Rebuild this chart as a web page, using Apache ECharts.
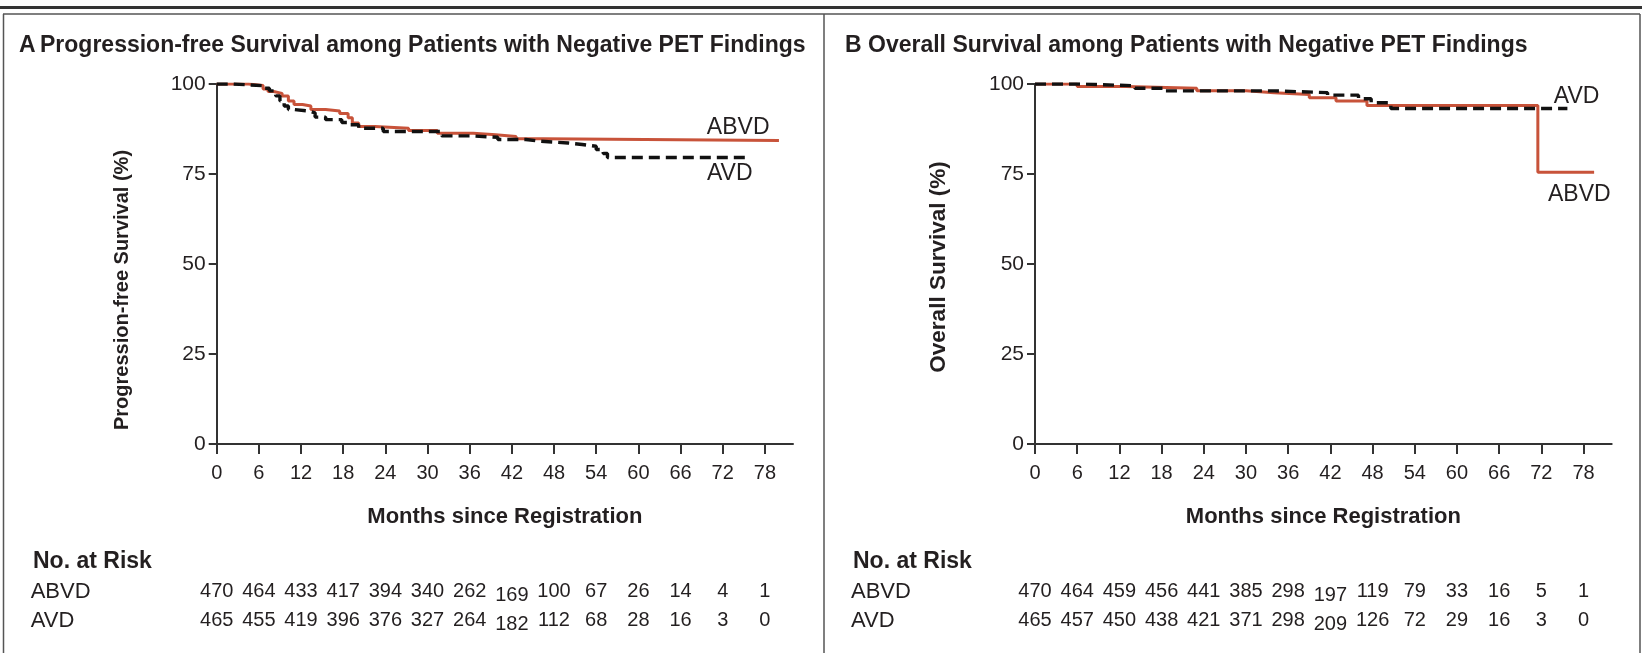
<!DOCTYPE html>
<html><head><meta charset="utf-8">
<script src="https://cdn.jsdelivr.net/npm/echarts@6/dist/echarts.min.js"></script>
<style>html,body{margin:0;padding:0;background:#fff}#c{width:1642px;height:653px}</style>
</head><body><div id="c"></div>
<script>
// ---- data ----
const monthTicks = [0,6,12,18,24,30,36,42,48,54,60,66,72,78];
const yTicks = [0,25,50,75,100];
const groups = ['ABVD','AVD'];

const pfsABVD = [[0,100],[4.5,99.6],[6.6,98.6],[7.3,97.9],[8.1,97.4],[9.3,96.7],[10.2,95.3],[11,94.3],[12.2,93.9],[13.4,92.9],[15.5,92.5],[17.5,91.8],[18.7,90.6],[19.3,89.2],[20.2,88.2],[22.5,87.7],[27.3,87.1],[31.4,86.3],[36.5,85.9],[39.7,85.4],[42.6,84.8],[46.5,84.3],[80,84.3]];
const pfsAVD = [[0,100],[2.4,99.5],[6.8,98.8],[7.5,98.1],[8.4,96.7],[9,95.3],[9.6,93.9],[10.2,92.9],[11,92.5],[13.1,92],[14,90.8],[15.5,90.1],[17.8,89.3],[19,88.7],[20.2,87.7],[23.7,86.8],[32,85.6],[36,85.2],[40,84.6],[44,84.1],[46,83.6],[50,83.2],[52,82.7],[54,81.8],[55,80.7],[55.6,79.6],[76,79.6]];
const osABVD = [[0,100],[6,99.3],[12.9,98.8],[23,98.1],[30,97.6],[34,97.1],[39,96.2],[42.8,95.3],[47.2,94],[71.5,75.5],[79.5,75.5]];
const osAVD = [[0,100],[6.7,99.5],[14.2,98.8],[18.5,98.1],[34,97.6],[41.6,96.9],[46,95.9],[47.8,94.8],[50.6,93.2],[75.7,93.2]];

const pfsRiskABVD = [470,464,433,417,394,340,262,169,100,67,26,14,4,1];
const pfsRiskAVD  = [465,455,419,396,376,327,264,182,112,68,28,16,3,0];
const osRiskABVD  = [470,464,459,456,441,385,298,197,119,79,33,16,5,1];
const osRiskAVD   = [465,457,450,438,421,371,298,209,126,72,29,16,3,0];

const titleA = 'Progression-free Survival among Patients with Negative PET Findings';
const titleB = 'Overall Survival among Patients with Negative PET Findings';
const yNameA = 'Progression-free Survival (%)';
const yNameB = 'Overall Survival (%)';
const xName = 'Months since Registration';

// ---- style ----
const FONT = "'Liberation Sans',Arial,sans-serif";
const INK = '#231f20';
const RED = '#c8533a';
const AXC = '#333333';
const XMAX = 82;

const chart = echarts.init(document.getElementById('c'), null, {renderer:'canvas'});

function curveAxes(gi){
  return {
    x: {type:'value', gridIndex:gi, min:0, max:XMAX,
      axisLine:{lineStyle:{color:AXC,width:2}},
      axisTick:{show:true, length:10, customValues:monthTicks, lineStyle:{color:AXC,width:2}},
      axisLabel:{customValues:monthTicks, color:INK, fontFamily:FONT, fontSize:20, margin:19},
      splitLine:{show:false},
      name:xName, nameLocation:'middle', nameGap:62,
      nameTextStyle:{color:INK, fontFamily:FONT, fontSize:22, fontWeight:'bold'}},
    y: {type:'value', gridIndex:gi, min:0, max:100, interval:25,
      axisLine:{show:true, lineStyle:{color:AXC,width:2}},
      axisTick:{show:true, length:8, lineStyle:{color:AXC,width:2}},
      axisLabel:{color:INK, fontFamily:FONT, fontSize:21, margin:11},
      splitLine:{show:false},
      nameLocation:'middle', nameRotate:90, nameGap:84,
      nameTextStyle:{color:INK, fontFamily:FONT, fontSize:20, fontWeight:'bold'}}
  };
}
function tableAxes(gi, margin){
  return {
    x: {type:'value', gridIndex:gi, min:0, max:XMAX, show:false},
    y: {type:'category', gridIndex:gi, data:groups, inverse:true,
      axisLine:{show:false}, axisTick:{show:false}, splitLine:{show:false},
      axisLabel:{align:'left', margin:margin, color:INK, fontFamily:FONT, fontSize:22}}
  };
}
const a0 = curveAxes(0), a1 = curveAxes(1), t2 = tableAxes(2,186), t3 = tableAxes(3,184);
a0.y.name = yNameA; a1.y.name = yNameB;
a0.y.nameTextStyle = Object.assign({}, a0.y.nameTextStyle, {padding:[0,52,0,0]});
a1.y.nameTextStyle = Object.assign({}, a1.y.nameTextStyle, {fontSize:22.5, padding:[0,6,0,0]});
a1.y.nameGap = 85;

function riskSeries(vals, grp, xi, yi){
  return {type:'scatter', xAxisIndex:xi, yAxisIndex:yi, symbolSize:0, silent:true,
    itemStyle:{color:INK, opacity:1},
    data: vals.map((v,i)=>({value:[monthTicks[i], grp, v],
      label: i===7 ? {offset:[0,4]} : undefined})),
    label:{show:true, position:'inside', formatter:p=>String(p.value[2]),
      color:INK, opacity:1, textBorderWidth:0, fontFamily:FONT, fontSize:20}};
}
function kmSeries(data, gi, color, dashed){
  return {type:'line', xAxisIndex:gi, yAxisIndex:gi, data:data, step:'end',
    showSymbol:false, symbol:'none', silent:true, z: dashed?4:3,
    lineStyle:{color:color, width: dashed?3.4:3, type: dashed?[11,6]:'solid'}};
}

chart.setOption({
  animation:false,
  backgroundColor:'#ffffff',
  grid:[
    {left:216.7, top:84, width:576.3, height:360},
    {left:1035, top:84, width:576.7, height:360},
    {left:216.7, top:577, width:576.3, height:58},
    {left:1035, top:577, width:576.7, height:58}
  ],
  xAxis:[a0.x, a1.x, t2.x, t3.x],
  yAxis:[a0.y, a1.y, t2.y, t3.y],
  series:[
    kmSeries(pfsABVD,0,RED,false),
    kmSeries(pfsAVD,0,'#111111',true),
    kmSeries(osABVD,1,RED,false),
    kmSeries(osAVD,1,'#111111',true),
    riskSeries(pfsRiskABVD,'ABVD',2,2),
    riskSeries(pfsRiskAVD,'AVD',2,2),
    riskSeries(osRiskABVD,'ABVD',3,3),
    riskSeries(osRiskAVD,'AVD',3,3)
  ]
});

// annotations
function lab(gi, pt, text){
  const p = chart.convertToPixel({gridIndex:gi}, pt);
  return {type:'text', x:p[0], y:p[1], style:{text:text, fill:INK, font:'23px '+FONT, textAlign:'center', textVerticalAlign:'middle'}};
}
const g = [
  {type:'rect', shape:{x:0,y:6,width:1642,height:3}, style:{fill:'#333'}},
  {type:'line', shape:{x1:3,y1:14,x2:1640,y2:14}, style:{stroke:'#555',lineWidth:1.5}},
  {type:'line', shape:{x1:3.5,y1:14,x2:3.5,y2:653}, style:{stroke:'#555',lineWidth:1.5}},
  {type:'line', shape:{x1:824,y1:14,x2:824,y2:653}, style:{stroke:'#555',lineWidth:1.5}},
  {type:'line', shape:{x1:1640,y1:14,x2:1640,y2:653}, style:{stroke:'#555',lineWidth:1.5}},
  {type:'text', x:19, y:46, style:{text:'A', fill:INK, font:'bold 23px '+FONT, textVerticalAlign:'middle'}},
  {type:'text', x:40, y:46, style:{text:titleA, fill:INK, font:'bold 23px '+FONT, textVerticalAlign:'middle'}},
  {type:'text', x:845, y:46, style:{text:'B', fill:INK, font:'bold 23px '+FONT, textVerticalAlign:'middle'}},
  {type:'text', x:868, y:46, style:{text:titleB, fill:INK, font:'bold 23px '+FONT, textVerticalAlign:'middle'}},
  {type:'text', x:33, y:562, style:{text:'No. at Risk', fill:INK, font:'bold 23px '+FONT, textVerticalAlign:'middle'}},
  {type:'text', x:853, y:562, style:{text:'No. at Risk', fill:INK, font:'bold 23px '+FONT, textVerticalAlign:'middle'}},
  lab(0,[74.2,87.8],'ABVD'),
  lab(0,[73,75],'AVD'),
  lab(1,[77,96.6],'AVD'),
  lab(1,[77.4,69.4],'ABVD')
];
chart.setOption({graphic:g});
</script></body></html>
